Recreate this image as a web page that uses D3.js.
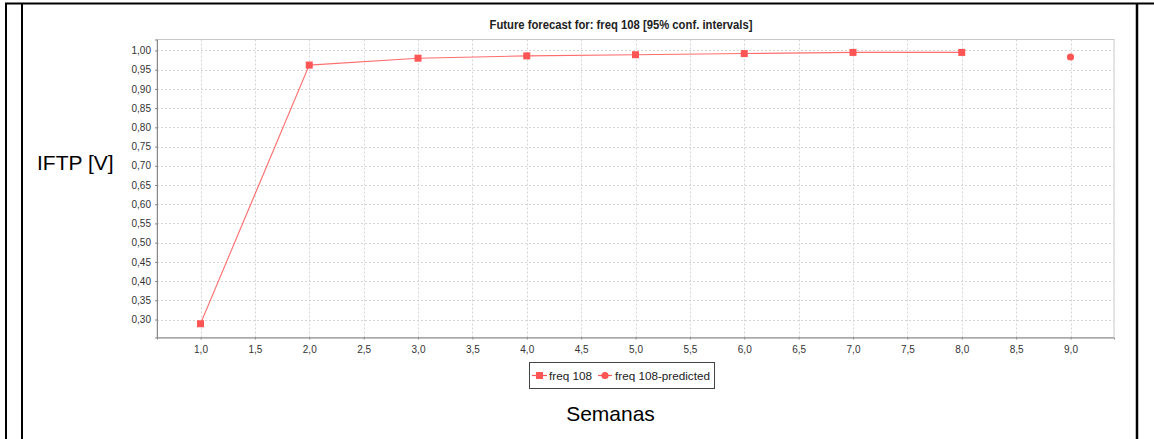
<!DOCTYPE html>
<html>
<head>
<meta charset="utf-8">
<script src="https://cdn.jsdelivr.net/npm/d3@7"></script>
<style>
  body { margin: 0; background: #fff; }
  svg { display: block; font-family: "Liberation Sans", Arial, sans-serif; }
</style>
</head>
<body>
<svg id="chart" width="1154" height="439"></svg>
<script>
// semanas observadas + valores IFTP
var semanas = [1, 2, 3, 4, 5, 6, 7, 8];
var iftp = [0.289, 0.962, 0.980, 0.986, 0.989, 0.992, 0.995, 0.995];
// previsão
var semanasPred = [9];
var iftpPred = [0.983];

var xTicks = [1, 1.5, 2, 2.5, 3, 3.5, 4, 4.5, 5, 5.5, 6, 6.5, 7, 7.5, 8, 8.5, 9];
var yTicks = [0.30, 0.35, 0.40, 0.45, 0.50, 0.55, 0.60, 0.65, 0.70, 0.75, 0.80, 0.85, 0.90, 0.95, 1.00];
var legendNames = ["freq 108", "freq 108-predicted"];

var titre = "Future forecast for: freq 108 [95% conf. intervals]";
var red = "#ff5555";

var plot = { left: 157, top: 39.5, right: 1114, bottom: 337.5 };

var svg = d3.select("#chart");

// bordas pretas da tabela
var borders = svg.append("g").attr("stroke", "#000").attr("stroke-width", 2);
borders.append("line").attr("x1", 5).attr("x2", 1154).attr("y1", 3.5).attr("y2", 3.5);
borders.append("line").attr("x1", 6).attr("x2", 6).attr("y1", 3).attr("y2", 439);
borders.append("line").attr("x1", 22).attr("x2", 22).attr("y1", 3).attr("y2", 439);
borders.append("line").attr("x1", 1137).attr("x2", 1137).attr("y1", 3).attr("y2", 439).attr("stroke-width", 2.5);

var x = d3.scaleLinear().domain([0.6, 9.4]).range([plot.left, plot.right]);
var y = d3.scaleLinear().domain([0.2532, 1.0286]).range([plot.bottom, plot.top]);

var loc = d3.formatLocale({ decimal: ",", thousands: ".", grouping: [3], currency: ["", ""] });
var fx = loc.format(".1f");
var fy = loc.format(".2f");

// fundo + grade
svg.append("rect")
  .attr("x", plot.left).attr("y", plot.top)
  .attr("width", plot.right - plot.left).attr("height", plot.bottom - plot.top)
  .attr("fill", "#fff").attr("stroke", "#c8c8c8").attr("stroke-width", 1);

var grid = svg.append("g").attr("stroke", "#d4d4d4").attr("stroke-width", 1).attr("stroke-dasharray", "2,2");
grid.selectAll("line.v").data(xTicks).join("line")
  .attr("class", "v")
  .attr("x1", d => Math.round(x(d)) + 0.5).attr("x2", d => Math.round(x(d)) + 0.5)
  .attr("y1", plot.top).attr("y2", plot.bottom);
grid.selectAll("line.h").data(yTicks).join("line")
  .attr("class", "h")
  .attr("y1", d => Math.round(y(d)) + 0.5).attr("y2", d => Math.round(y(d)) + 0.5)
  .attr("x1", plot.left).attr("x2", plot.right);

// eixos
var xAxis = svg.append("g")
  .attr("transform", `translate(0,${plot.bottom})`)
  .call(d3.axisBottom(x).tickValues(xTicks).tickFormat(fx).tickSizeOuter(0).tickSize(2).tickPadding(6));
var yAxis = svg.append("g")
  .attr("transform", `translate(${plot.left},0)`)
  .call(d3.axisLeft(y).tickValues(yTicks).tickFormat(fy).tickSizeOuter(0).tickSize(2).tickPadding(4));

[xAxis, yAxis].forEach(a => {
  a.select(".domain").attr("stroke", "#888");
  a.selectAll(".tick line").attr("stroke", "#888");
  a.selectAll("text").attr("fill", "#333").attr("font-size", 10)
    .attr("font-family", "'Liberation Sans', Arial, sans-serif");
});

// série observada
var pts = semanas.map((s, i) => [s, iftp[i]]);
svg.append("path")
  .datum(pts)
  .attr("fill", "none")
  .attr("stroke", red)
  .attr("stroke-opacity", 0.85)
  .attr("stroke-width", 1.1)
  .attr("d", d3.line().x(d => x(d[0])).y(d => y(d[1])));

svg.append("g").selectAll("rect").data(pts).join("rect")
  .attr("x", d => x(d[0]) - 3.5).attr("y", d => y(d[1]) - 3.5)
  .attr("width", 7).attr("height", 7)
  .attr("fill", red);

// previsão
svg.append("g").selectAll("circle").data(semanasPred.map((s, i) => [s, iftpPred[i]])).join("circle")
  .attr("cx", d => x(d[0])).attr("cy", d => y(d[1]))
  .attr("r", 3.6)
  .attr("fill", red);

// título
svg.append("text")
  .attr("x", 621).attr("y", 29)
  .attr("text-anchor", "middle")
  .attr("font-size", 12).attr("font-weight", "bold").attr("fill", "#222")
  .attr("textLength", 263).attr("lengthAdjust", "spacingAndGlyphs")
  .text(titre);

// rótulos dos eixos
svg.append("text")
  .attr("x", 37).attr("y", 170)
  .attr("font-size", 21).attr("fill", "#000")
  .text("IFTP [V]");
svg.append("text")
  .attr("x", 610.5).attr("y", 421)
  .attr("text-anchor", "middle")
  .attr("font-size", 21).attr("fill", "#000")
  .text("Semanas");

// legenda
var lg = svg.append("g");
lg.append("rect")
  .attr("x", 529.5).attr("y", 362.5).attr("width", 185).attr("height", 26)
  .attr("fill", "#fff").attr("stroke", "#444").attr("stroke-width", 1);

lg.append("line").attr("x1", 532).attr("x2", 547).attr("y1", 375.5).attr("y2", 375.5)
  .attr("stroke", red).attr("stroke-width", 1.2);
lg.append("rect").attr("x", 536).attr("y", 372).attr("width", 7).attr("height", 7).attr("fill", red);
lg.append("text").attr("x", 549).attr("y", 380).attr("font-size", 11.5).attr("fill", "#222")
  .attr("textLength", 43).attr("lengthAdjust", "spacingAndGlyphs")
  .text(legendNames[0]);

lg.append("line").attr("x1", 598).attr("x2", 612).attr("y1", 375.5).attr("y2", 375.5)
  .attr("stroke", red).attr("stroke-width", 1.2);
lg.append("circle").attr("cx", 605).attr("cy", 375.5).attr("r", 3.6).attr("fill", red);
lg.append("text").attr("x", 615).attr("y", 380).attr("font-size", 11.5).attr("fill", "#222")
  .attr("textLength", 95).attr("lengthAdjust", "spacingAndGlyphs")
  .text(legendNames[1]);
</script>
</body>
</html>
